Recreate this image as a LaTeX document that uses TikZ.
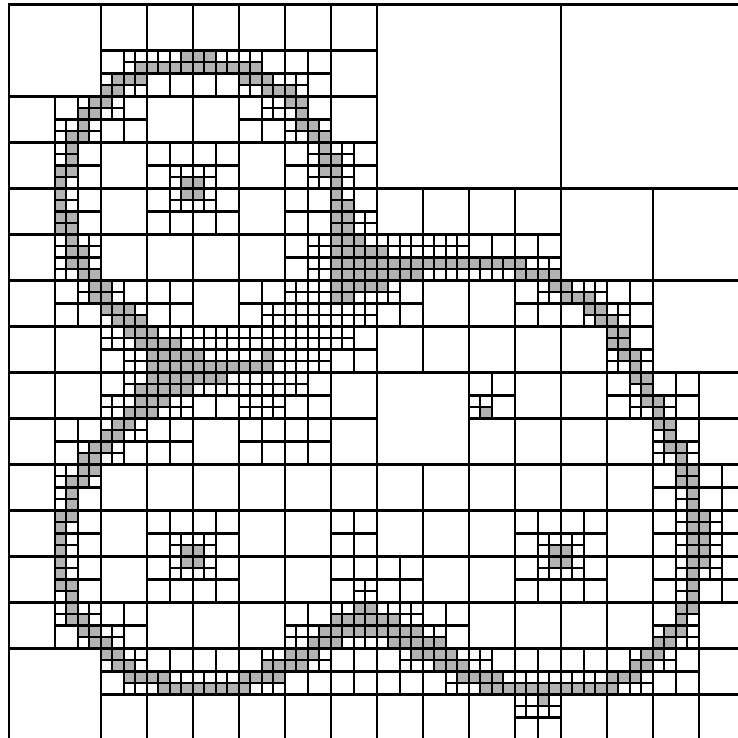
\documentclass[tikz,border=0pt]{standalone}
\usepackage{xcolor}
\usepackage{tikz}
\definecolor{cellgray}{RGB}{178,178,178}
\tikzset{
    meshline/.style={draw=black, line width=1.6pt},
    leafcell/.style={meshline, fill=white},
    markedcell/.style={fill=cellgray},
}

\begin{document}
\begin{tikzpicture}[x=8.625pt, y=-8.625pt]
    % Page
    \path[fill=white, use as bounding box] (-0.757,-0.391) rectangle (63.33,63.78);

    % Marked Cells: row/first/last
    \foreach \row/\first/\last in {
        4/15/17, 5/11/21, 6/9/11, 6/20/22, 7/8/9, 7/22/24, 8/7/8, 8/24/25, 9/6/7, 9/25/25,
        10/6/6, 10/25/26, 11/5/6, 11/26/27, 12/5/5, 12/27/27, 13/5/5, 13/27/28, 14/4/5, 14/27/28,
        15/4/4, 15/15/16, 15/28/28, 16/4/4, 16/15/16, 16/28/28, 17/4/4, 17/28/29, 18/4/5, 18/28/29,
        19/4/5, 19/28/29, 20/5/5, 20/28/30, 21/5/6, 21/28/32, 22/5/6, 22/28/44, 23/6/7, 23/28/35,
        23/44/47, 24/7/8, 24/28/32, 24/47/48, 25/7/8, 25/28/29, 25/48/50, 26/8/10, 26/50/51,
        27/9/11, 27/51/52, 28/10/12, 28/52/53, 29/11/14, 29/52/53, 30/12/16, 30/22/22, 30/53/54,
        31/12/22, 31/54/54, 32/12/18, 32/54/55, 33/11/15, 33/55/55, 34/11/13, 34/55/56,
        35/10/12, 35/41/41, 35/56/56, 36/9/10, 36/56/57, 37/8/9, 37/57/57, 38/7/8, 38/57/58,
        39/6/7, 39/58/58, 40/6/7, 40/58/59, 41/5/6, 41/58/59, 42/5/5, 42/59/59, 43/5/5, 43/59/59,
        44/4/5, 44/59/60, 45/4/4, 45/59/60, 46/4/4, 46/59/60, 47/4/4, 47/15/16, 47/47/48, 47/59/60,
        48/4/4, 48/15/16, 48/47/48, 48/59/60, 49/4/4, 49/59/59, 50/4/5, 50/59/59, 51/5/5, 51/59/59,
        52/5/5, 52/30/31, 52/58/59, 53/5/6, 53/28/33, 53/58/58, 54/6/7, 54/27/35, 54/57/58,
        55/7/8, 55/26/28, 55/33/37, 55/56/57, 56/8/9, 56/24/26, 56/35/38, 56/55/56,
        57/9/10, 57/22/25, 57/37/39, 57/54/55, 58/10/13, 58/20/23, 58/39/42, 58/52/54,
        59/13/20, 59/41/52, 60/46/46}
        \fill[markedcell] (\first,\row) rectangle (\last+1,\row+1);

    % Base Mesh
    \foreach \k in {0,4,...,64} {
        \draw[meshline] (\k,0) -- (\k,64);
        \draw[meshline] (0,\k) -- (64,\k);
    }

    % Large Leaf Cells
    \foreach \col/\row in {0/0, 0/56, 48/16, 56/16, 56/24, 32/32}
        \draw[leafcell] (\col,\row) rectangle (\col+8,\row+8);
    \foreach \col/\row in {32/0, 48/0}
        \draw[leafcell] (\col,\row) rectangle (\col+16,\row+16);

    % Split Into Halves
    \foreach \row/\cols in {
        4/{8,12,16,20,24},
        8/{4,8,20,24},
        12/{4,12,16,24,28},
        16/{4,12,16,24,28},
        20/{4,24,28,32,36,40,44},
        24/{4,8,12,20,24,28,32,44,48,52},
        28/{8,12,16,20,24,28,52},
        32/{8,12,16,20,24,40,52,56},
        36/{4,8,12,20,24,56},
        40/{4,56,60},
        44/{4,12,16,28,44,48,56,60},
        48/{4,12,16,28,32,44,48,56,60},
        52/{4,8,24,28,32,36,56},
        56/{8,12,16,20,24,28,32,36,40,44,48,52,56},
        60/{44}}
        \foreach \col in \cols
            \draw[meshline] (\col+2,\row) -- (\col+2,\row+4) (\col,\row+2) -- (\col+4,\row+2);

    % Split Into Quarters
    \foreach \row/\cols in {
        4/{10,12,14,16,18,20},
        6/{8,10,20,22,24},
        8/{6,8,22,24},
        10/{4,6,24,26},
        12/{4,26,28},
        14/{4,14,16,26,28},
        16/{4,14,16,28},
        18/{4,28,30},
        20/{4,6,26,28,30,32,34,36,38},
        22/{4,6,26,28,30,32,34,36,38,40,42,44,46},
        24/{6,8,24,26,28,30,32,46,48,50},
        26/{8,10,22,24,26,28,30,50,52},
        28/{8,10,12,14,16,18,20,22,24,26,28,52},
        30/{10,12,14,16,18,20,22,24,26,52,54},
        32/{10,12,14,16,18,20,22,24,54},
        34/{8,10,12,14,20,22,40,54,56},
        36/{8,10,56},
        38/{6,8,56,58},
        40/{4,6,58},
        42/{4,58},
        44/{4,58,60},
        46/{4,14,16,46,48,58,60},
        48/{4,14,16,46,48,58,60},
        50/{4,30,58},
        52/{4,6,28,30,32,34,58},
        54/{6,8,24,26,28,30,32,34,36,56,58},
        56/{8,10,22,24,26,34,36,38,40,54,56},
        58/{10,12,14,16,18,20,22,38,40,42,44,46,48,50,52,54},
        60/{44,46}}
        \foreach \col in \cols
            \draw[meshline] (\col+1,\row) -- (\col+1,\row+2) (\col,\row+1) -- (\col+2,\row+1);
\end{tikzpicture}
\end{document}
